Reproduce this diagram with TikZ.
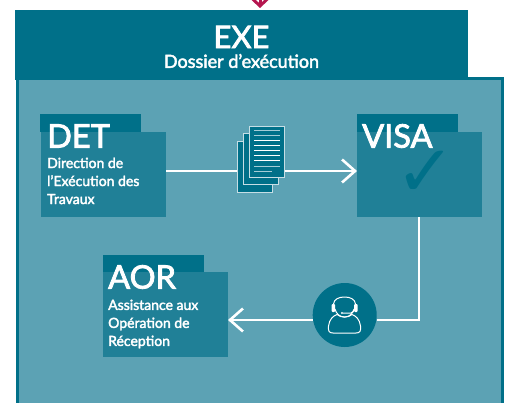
\documentclass[tikz,border=0pt]{standalone}
\usepackage{fontspec}
\setmainfont{Lato}
\newfontfamily\medfont[FakeBold=2.5]{Lato}
\newfontfamily\symbfont{DejaVu Sans}
\usetikzlibrary{arrows.meta}
\definecolor{tealdark}{HTML}{007089}
\definecolor{tealmid}{HTML}{208097}
\definecolor{teallight}{HTML}{5CA2B4}
\definecolor{crimson}{HTML}{B5164F}
\tikzset{
  tabbox/.style={fill=tealdark,minimum width=101pt,minimum height=18pt,inner sep=0pt,outer sep=0pt},
  mainbox/.style={fill=tealmid,minimum width=125pt,minimum height=85pt,inner sep=0pt,outer sep=0pt},
  acro/.style={text=white,font=\fontsize{32.5}{33}\selectfont\medfont,inner sep=0pt,anchor=west},
  desc/.style={text=white,font=\fontsize{14}{18}\selectfont\medfont,inner sep=0pt,anchor=north west,align=left},
  flowline/.style={draw=white,line width=2.6pt},
  flow/.style={flowline,-{Straight Barb[length=13pt,width=23pt,line width=2.6pt]}},
  sheet/.style={draw=white!65!teallight,fill=tealdark,line width=0.9pt,minimum width=35pt,minimum height=51pt,inner sep=0pt,outer sep=0pt},
  rulea/.style={draw=white,line width=1pt},
  ruleb/.style={draw=white!45!teallight,line width=1pt},
  person/.style={draw=white,line width=1pt},
}
\begin{document}
\begin{tikzpicture}[x=1pt,y=-1pt]
  \useasboundingbox (0,0) rectangle (510,403);
  \fill[white] (0,0) rectangle (510,403);
  % frame
  \node[draw=tealdark,fill=teallight,line width=3.5pt,minimum width=485pt,minimum height=345pt,inner sep=0pt,outer sep=0pt,anchor=north west] (panel) at (17.5,78.5) {};
  \node[fill=tealdark,minimum width=453pt,minimum height=70pt,inner sep=0pt,outer sep=0pt,anchor=north west] (header) at (15,10) {};
  \node[text=white,font=\fontsize{31}{31}\selectfont\medfont,inner sep=0pt] (exe) at (241.5,37) {EXE};
  \node[text=white,font=\fontsize{18}{18}\selectfont\medfont,inner sep=0pt] (dossier) at (241.5,61) {Dossier d’exécution};
  % top arrow
  \coordinate (topend) at (260,-8);
  \coordinate (toptip) at (260,8);
  \draw[draw=crimson,line width=3pt,-{Straight Barb[length=8pt,width=17pt,line width=3pt]}] (topend) -- (toptip);

  \node[tabbox,anchor=north west] (dettab) at (40,114) {};
  \node[mainbox,anchor=north west] (det) at (41,132) {};
  \node[acro] (detname) at (47,136) {DET};
  \node[desc] (dettxt) at (47,157.5) {Direction de\\l’Exécution des\\Travaux};

  \node[tabbox,anchor=north west] (visatab) at (357,114) {};
  \node[mainbox,anchor=north west] (visa) at (357,132) {};
  \node[acro] (visaname) at (362,136) {VISA};
  \node[text=tealdark,font=\symbfont\fontsize{72}{72}\selectfont,inner sep=0pt] (check) at (426,174) {✓};

  \node[tabbox,anchor=north west] (aortab) at (103,255) {};
  \node[mainbox,anchor=north west] (aor) at (103,272) {};
  \node[acro] (aorname) at (108,277) {AOR};
  \node[desc] (aortxt) at (108,299.5) {Assistance aux\\Opération de\\Réception};

  % documents
  \node[sheet,anchor=north west] (sheetc) at (237,141) {};
  \node[sheet,anchor=north west] (sheetb) at (243.5,133) {};
  \node[sheet,anchor=north west] (sheeta) at (249.5,126) {};
  \foreach \y/\x/\s in {131/280/ruleb,136/280/ruleb,141/280/rulea,146/280/rulea,151/280/rulea,156/280/rulea,161/280/rulea,167/280/ruleb,172/272/ruleb}
    \draw[\s] (254,\y) -- (\x,\y);

  % operator
  \node[circle,fill=tealdark,minimum size=64pt,inner sep=0pt,outer sep=0pt] (operator) at (344.7,315) {};
  \draw[person] (333,333) .. controls (329,333) and (328,331) .. (328.5,326) .. controls (329.5,319) and (333,316) .. (337,314.5) .. controls (341,318) and (348,318) .. (352,314.5) .. controls (356,316) and (359.5,319) .. (360.5,326) .. controls (361,331) and (360,333) .. (356,333) -- cycle;
  \draw[person] (333.5,304) .. controls (334,299) and (339,297) .. (344.5,297) .. controls (350,297) and (355,299) .. (355.5,304);
  \draw[person] (335,309) .. controls (336,313) and (339,317) .. (344.5,317) .. controls (350,317) and (353,313) .. (354,309);
  \fill[white,rounded corners=1pt] (331.5,304) rectangle (335,312);
  \fill[white,rounded corners=1pt] (354,304) rectangle (357.5,312);
  \draw[person] (354,311) -- (351,313) -- (343,313);
  \fill[white] (342,313) circle (1.2pt);

  % connectors
  \draw[flowline] (det.east |- 0,171) -- (sheetc.west |- 0,171);
  \draw[flow] (sheeta.east |- 0,171) -- (visa.west |- 0,171);
  \coordinate (bend) at (419,320);
  \draw[flowline] (visa.south -| bend) -- (bend) -- (operator.east |- bend);
  \draw[flow] (operator.west |- bend) -- (aor.east |- bend);
\end{tikzpicture}
\end{document}
